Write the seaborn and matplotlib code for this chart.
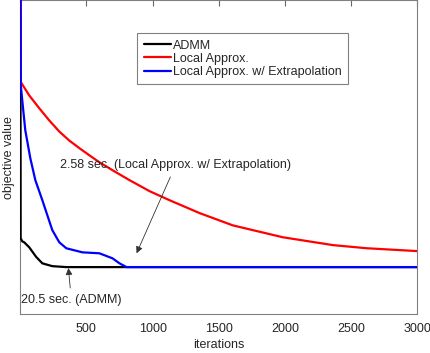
import matplotlib
matplotlib.use("Agg")
import matplotlib.pyplot as plt
import seaborn as sns
import pandas as pd

# values (y is in arbitrary units, no tick labels shown)
admm_iter = [1, 3, 15, 30, 68, 121, 167, 242, 348, 3000]
admm_obj = [1.2, 0.242, 0.232, 0.229, 0.213, 0.182, 0.162, 0.153, 0.150, 0.150]

local_iter = [1, 5, 68, 144, 220, 295, 371, 447, 523, 598, 712, 826, 977, 1129,
              1356, 1606, 1985, 2364, 2621, 3000]
local_obj = [1.2, 0.739, 0.697, 0.656, 0.617, 0.582, 0.553, 0.529, 0.506, 0.484,
             0.455, 0.427, 0.392, 0.363, 0.322, 0.283, 0.245, 0.220, 0.210, 0.201]

extrap_iter = [1, 4, 15, 38, 76, 114, 167, 242, 295, 348, 470, 598, 697, 750, 803, 3000]
extrap_obj = [1.2, 0.729, 0.682, 0.586, 0.497, 0.427, 0.363, 0.268, 0.229, 0.210,
              0.197, 0.194, 0.178, 0.162, 0.150, 0.150]

names = ["ADMM", "Local Approx.", "Local Approx. w/ Extrapolation"]
colors = ["#000000", "#ff0000", "#0000ff"]


def build_frame():
    rows = []
    for name, its, objs in zip(names, [admm_iter, local_iter, extrap_iter],
                               [admm_obj, local_obj, extrap_obj]):
        for i, o in zip(its, objs):
            rows.append([name, i, o])
    return pd.DataFrame(rows, columns=["method", "iterations", "objective value"])


def main():
    sns.set_style("white")
    plt.rcParams["font.family"] = ["Liberation Sans", "DejaVu Sans"]
    df = build_frame()

    fig = plt.figure(figsize=(4.31, 3.53), dpi=100)
    ax = fig.add_axes([0.047, 0.110, 0.921, 0.889])
    sns.lineplot(data=df, x="iterations", y="objective value", hue="method",
                 hue_order=names, palette=colors, estimator=None, sort=False,
                 linewidth=1.6, zorder=3, ax=ax)

    ax.set_xlim(0, 3000)
    ax.set_ylim(0, 1)
    ax.set_xticks([500, 1000, 1500, 2000, 2500, 3000])
    ax.set_yticks([])
    ax.tick_params(axis="x", direction="in", length=4, labelsize=9, top=True,
                   color="#666666", pad=6)
    for sp in ax.spines.values():
        sp.set_color("#808080")
        sp.set_linewidth(0.8)
    ax.set_xlabel("iterations", fontsize=9, labelpad=3)
    ax.set_ylabel("objective value", fontsize=9, labelpad=4)

    leg = ax.legend(loc="upper left", bbox_to_anchor=(0.295, 0.895), fontsize=9,
                    handlelength=2.2, handletextpad=0.15, borderpad=0.5,
                    labelspacing=0.1, borderaxespad=0, fancybox=False, framealpha=1)
    leg.get_frame().set_edgecolor("#808080")
    leg.get_frame().set_linewidth(0.8)

    arrow = dict(arrowstyle="-|>", color="#333333", lw=0.6,
                 mutation_scale=10, shrinkA=2, shrinkB=0)
    ax.annotate("2.58 sec. (Local Approx. w/ Extrapolation)", xy=(879, 0.194),
                xytext=(1174, 0.475), fontsize=9, ha="center", va="center",
                arrowprops=arrow)
    ax.annotate("20.5 sec. (ADMM)", xy=(364, 0.147), xytext=(386, 0.045),
                fontsize=9, ha="center", va="center", arrowprops=arrow)

    fig.savefig("out.png", dpi=100)


if __name__ == "__main__":
    main()
